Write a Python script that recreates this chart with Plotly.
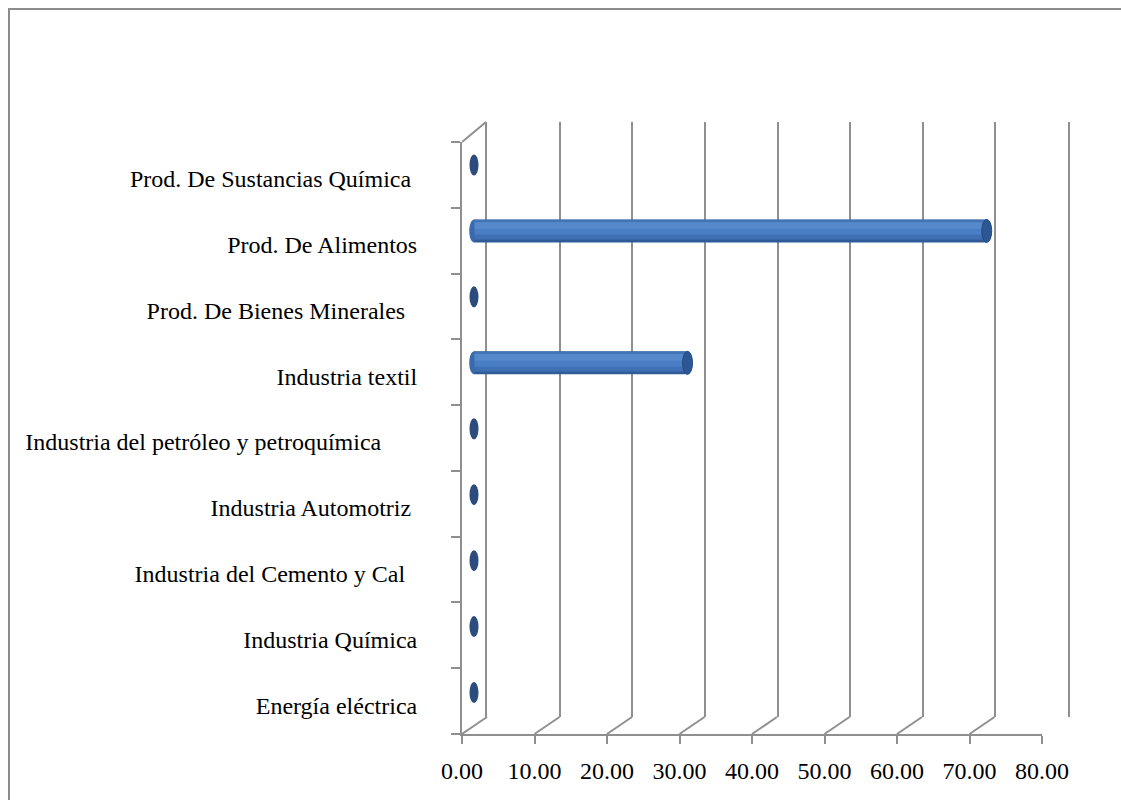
import plotly.graph_objects as go

# Categories listed bottom-to-top, as on the category axis
categories = [
    "Energía eléctrica",
    "Industria Química",
    "Industria del Cemento y Cal\u00a0\u00a0",
    "Industria Automotriz\u00a0",
    "Industria del petróleo y petroquímica\u00a0\u00a0\u00a0\u00a0\u00a0\u00a0",
    "Industria textil",
    "Prod. De Bienes Minerales\u00a0\u00a0",
    "Prod. De Alimentos",
    "Prod. De Sustancias Química\u00a0",
]
values = [0.0, 0.0, 0.0, 0.0, 0.0, 29.4, 0.0, 70.6, 0.0]
x_ticks = [0, 10, 20, 30, 40, 50, 60, 70, 80]

W, H = 1121, 800
FONT = dict(family="Liberation Serif, Times New Roman, serif", size=24, color="#000000")
GRID = "#8f8f8f"


def px_x(p):
    return p / W


def px_y(p):
    return (H - p) / H


# front frame, back wall and the mid-depth plane that carries the cylinders
front_x = [px_x(462), px_x(1042)]
front_y = [px_y(734), px_y(142)]
back_x = [px_x(487), px_x(1068)]
back_y = [px_y(717), px_y(122)]
# mid plane: 0 sits at 474 px, 80 at 1055 px; a small margin left of 0
# keeps the round caps at the base from being clipped
mid_scale = (1055 - 474) / 80.0
mid_lo = -1.5
mid_x = [px_x(474 + mid_lo * mid_scale), px_x(1055)]
mid_y = [px_y(725.5), px_y(132)]

fig = go.Figure()

# invisible traces so the front and back axes get their subplots
fig.add_trace(go.Scatter(x=values, y=categories, mode="markers",
                         marker=dict(opacity=0), hoverinfo="skip",
                         showlegend=False, xaxis="x", yaxis="y"))
fig.add_trace(go.Scatter(x=values, y=[0.5] * len(values), mode="markers",
                         marker=dict(opacity=0), hoverinfo="skip",
                         showlegend=False, xaxis="x2", yaxis="y2"))

# cylinder body built from stacked shading bands
bands = [
    (-0.175, 0.350, "#2f5c98"),
    (-0.132, 0.296, "#3f70b4"),
    (-0.060, 0.192, "#4a7ec4"),
    (0.030, 0.102, "#5689cc"),
    (0.143, 0.026, "#4274b6"),
]
for off, wid, col in bands:
    fig.add_trace(go.Bar(x=values, y=categories, orientation="h",
                         offset=off, width=wid, marker=dict(color=col, line=dict(width=0)),
                         hoverinfo="skip", showlegend=False,
                         xaxis="x3", yaxis="y3"))

shapes = []

# end caps of each cylinder
for i, v in enumerate(values):
    if v > 0:
        shapes.append(dict(type="path", xref="x3", yref="y3",
                           xsizemode="pixel", ysizemode="pixel",
                           xanchor=0, yanchor=i,
                           path="M 0.5,11.5 C -6.5,11.5 -6.5,-11.5 0.5,-11.5 Z",
                           fillcolor="#3a6aad", line=dict(width=0), layer="above"))
        shapes.append(dict(type="circle", xref="x3", yref="y3",
                           xsizemode="pixel", ysizemode="pixel",
                           xanchor=v, yanchor=i, x0=-5, x1=5, y0=-11.5, y1=11.5,
                           fillcolor="#2c5794", line=dict(color="#25497d", width=1),
                           layer="above"))
    else:
        shapes.append(dict(type="circle", xref="x3", yref="y3",
                           xsizemode="pixel", ysizemode="pixel",
                           xanchor=v, yanchor=i, x0=-4.5, x1=4.5, y0=-10.5, y1=10.5,
                           fillcolor="#2c4c7e", line=dict(width=0), layer="above"))

# floor diagonals joining front ticks to the back wall
for t in x_ticks:
    shapes.append(dict(type="line", xref="x", yref="paper",
                       xsizemode="pixel", ysizemode="pixel",
                       xanchor=t, yanchor=front_y[0], x0=0, x1=25, y0=0, y1=17,
                       line=dict(color=GRID, width=2), layer="below"))
# side wall top edge
shapes.append(dict(type="line", xref="x", yref="paper",
                   xsizemode="pixel", ysizemode="pixel",
                   xanchor=0, yanchor=front_y[1], x0=0, x1=24, y0=0, y1=20,
                   line=dict(color=GRID, width=2), layer="below"))

# chart area border
shapes.append(dict(type="rect", xref="paper", yref="paper",
                   x0=px_x(9), x1=1.2, y0=-0.2, y1=px_y(9),
                   line=dict(color="#8c8c8c", width=2), fillcolor="rgba(0,0,0,0)"))

fig.update_layout(
    template="none",
    width=W, height=H,
    margin=dict(l=0, r=0, t=0, b=0, pad=0),
    paper_bgcolor="white", plot_bgcolor="rgba(0,0,0,0)",
    barmode="overlay",
    showlegend=False,
    font=FONT,
    shapes=shapes,
    xaxis=dict(domain=front_x, anchor="y", range=[0, 80], tickvals=x_ticks,
               tickformat=".2f", ticks="outside", ticklen=8, tickwidth=2,
               tickcolor=GRID, showline=True, linecolor=GRID, linewidth=2,
               showgrid=False, zeroline=False, tickfont=FONT,
               ticklabelstandoff=6, automargin=False),
    yaxis=dict(domain=front_y, anchor="x", type="category",
               categoryorder="array", categoryarray=categories,
               range=[-0.5, len(categories) - 0.5], tickson="boundaries",
               ticks="outside", ticklen=9, tickwidth=2, tickcolor=GRID,
               showline=True, linecolor=GRID, linewidth=2, showgrid=False,
               zeroline=False, tickfont=FONT, ticklabelstandoff=38,
               ticklabelshift=4, automargin=False),
    xaxis2=dict(domain=back_x, anchor="y2", range=[0, 80], tickvals=x_ticks,
                showgrid=True, gridcolor=GRID, gridwidth=2, showticklabels=False,
                ticks="", showline=False, zeroline=False, automargin=False),
    yaxis2=dict(domain=back_y, anchor="x2", range=[0, 1], showgrid=False,
                showticklabels=False, ticks="", zeroline=False,
                showline=True, mirror=True, linecolor=GRID, linewidth=2,
                automargin=False),
    xaxis3=dict(domain=mid_x, anchor="y3", range=[mid_lo, 80], visible=False,
                showgrid=False, zeroline=False, automargin=False),
    yaxis3=dict(domain=mid_y, anchor="x3", type="category",
                categoryorder="array", categoryarray=categories,
                range=[-0.5, len(categories) - 0.5], visible=False,
                showgrid=False, zeroline=False, automargin=False),
)

fig.write_html("out.html")
